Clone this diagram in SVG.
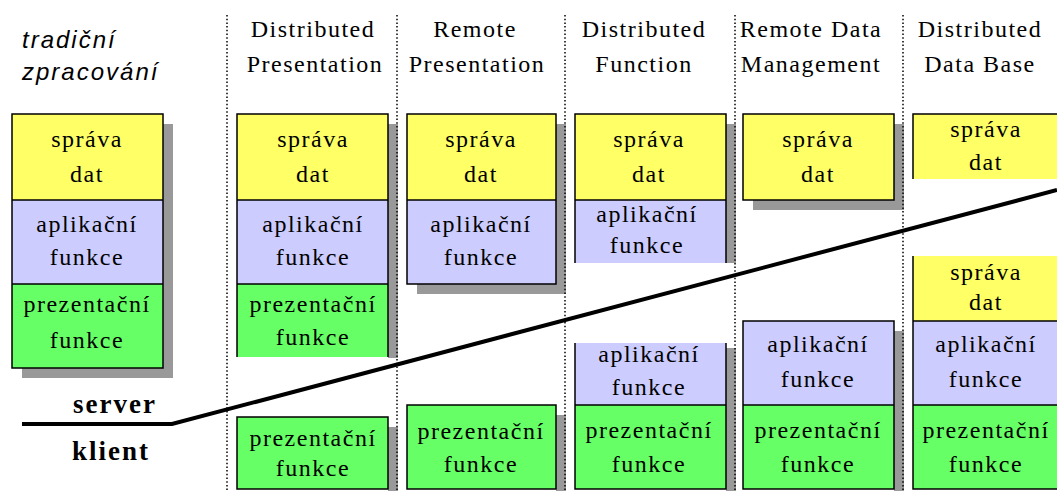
<svg xmlns="http://www.w3.org/2000/svg" width="1057" height="491" viewBox="0 0 1057 491">
<style>
.t{font-family:"Liberation Serif","Times New Roman",serif;font-size:24px;letter-spacing:1.5px;text-anchor:middle;fill:#000}
.it{font-family:"Liberation Sans",Arial,sans-serif;font-style:italic;font-size:24px;letter-spacing:2px;fill:#000}
.b{font-family:"Liberation Serif","Times New Roman",serif;font-weight:bold;font-size:27px;letter-spacing:2px;text-anchor:middle;fill:#000}
.sh{fill:#999999}
.y{fill:#FFFF66}
.p{fill:#CCCCFF}
.g{fill:#66FF66}
.bd{fill:none;stroke:#000;stroke-width:1.5}
.dv{stroke:#000;stroke-width:1.5;stroke-dasharray:1.5 2.2;fill:none}
</style>
<rect width="1057" height="491" fill="#fff"/>

<!-- shadows -->
<g id="shadows">
<rect class="sh" x="22" y="124" width="151" height="254"/>
<rect class="sh" x="388" y="124" width="10" height="234"/>
<rect class="sh" x="388" y="427" width="10" height="64"/>
<rect class="sh" x="417" y="124" width="149" height="170"/>
<rect class="sh" x="556" y="415" width="10" height="76"/>
<rect class="sh" x="726" y="124" width="10" height="139"/>
<rect class="sh" x="726" y="348" width="10" height="143"/>
<rect class="sh" x="753" y="124" width="151" height="86"/>
<rect class="sh" x="894" y="331" width="10" height="160"/>
</g>

<!-- dividers -->
<g id="dividers">
<line class="dv" x1="227" y1="15" x2="227" y2="491"/>
<line class="dv" x1="397" y1="15" x2="397" y2="491"/>
<line class="dv" x1="565" y1="15" x2="565" y2="491"/>
<line class="dv" x1="735" y1="15" x2="735" y2="491"/>
<line class="dv" x1="903" y1="15" x2="903" y2="491"/>
</g>

<!-- headers -->
<g id="header-trad">
<text class="it" x="22" y="48">tradiční</text>
<text class="it" x="22" y="80">zpracování</text>
</g>
<g id="header-dp">
<text class="t" x="313" y="37">Distributed</text>
<text class="t" x="315" y="72">Presentation</text>
</g>
<g id="header-rp">
<text class="t" x="475" y="37">Remote</text>
<text class="t" x="477" y="72">Presentation</text>
</g>
<g id="header-df">
<text class="t" x="644" y="37">Distributed</text>
<text class="t" x="644" y="72">Function</text>
</g>
<g id="header-rdm">
<text class="t" x="811" y="37">Remote Data</text>
<text class="t" x="811" y="72">Management</text>
</g>
<g id="header-ddb">
<text class="t" x="980" y="37">Distributed</text>
<text class="t" x="980" y="72">Data Base</text>
</g>

<!-- traditional -->
<g id="trad">
<rect class="y" x="12" y="114" width="151" height="86"/>
<rect class="p" x="12" y="200" width="151" height="84"/>
<rect class="g" x="12" y="284" width="151" height="84"/>
<rect class="bd" x="12" y="114" width="151" height="254"/>
<path class="bd" d="M12 200H163M12 284H163"/>
<text class="t" x="87" y="147">správa</text>
<text class="t" x="87" y="182">dat</text>
<text class="t" x="87" y="232">aplikační</text>
<text class="t" x="87" y="265">funkce</text>
<text class="t" x="87" y="312">prezentační</text>
<text class="t" x="87" y="348">funkce</text>
</g>

<!-- Distributed Presentation -->
<g id="dp-server">
<rect class="y" x="237" y="114" width="151" height="86"/>
<rect class="p" x="237" y="200" width="151" height="84"/>
<rect class="g" x="237" y="284" width="151" height="73"/>
<path class="bd" d="M237 357V114H388V357M237 200H388M237 284H388"/>
<text class="t" x="313" y="147">správa</text>
<text class="t" x="313" y="182">dat</text>
<text class="t" x="313" y="232">aplikační</text>
<text class="t" x="313" y="265">funkce</text>
<text class="t" x="313" y="312">prezentační</text>
<text class="t" x="313" y="345">funkce</text>
</g>
<g id="dp-client">
<rect class="g" x="237" y="417" width="151" height="72"/>
<rect class="bd" x="237" y="417" width="151" height="72"/>
<text class="t" x="313" y="446">prezentační</text>
<text class="t" x="313" y="476">funkce</text>
</g>

<!-- Remote Presentation -->
<g id="rp-server">
<rect class="y" x="407" y="114" width="149" height="86"/>
<rect class="p" x="407" y="200" width="149" height="84"/>
<rect class="bd" x="407" y="114" width="149" height="170"/>
<path class="bd" d="M407 200H556"/>
<text class="t" x="481" y="147">správa</text>
<text class="t" x="481" y="182">dat</text>
<text class="t" x="481" y="232">aplikační</text>
<text class="t" x="481" y="265">funkce</text>
</g>
<g id="rp-client">
<rect class="g" x="407" y="405" width="149" height="84"/>
<rect class="bd" x="407" y="405" width="149" height="84"/>
<text class="t" x="481" y="439">prezentační</text>
<text class="t" x="481" y="472">funkce</text>
</g>

<!-- Distributed Function -->
<g id="df-server">
<rect class="y" x="575" y="114" width="151" height="86"/>
<rect class="p" x="575" y="200" width="151" height="63"/>
<path class="bd" d="M575 263V114H726V263M575 200H726"/>
<text class="t" x="649" y="147">správa</text>
<text class="t" x="649" y="182">dat</text>
<text class="t" x="647" y="222">aplikační</text>
<text class="t" x="647" y="253">funkce</text>
</g>
<g id="df-client">
<rect class="p" x="575" y="343" width="151" height="62"/>
<rect class="g" x="575" y="405" width="151" height="84"/>
<path class="bd" d="M575 343V489H726V343M575 405H726"/>
<text class="t" x="649" y="362">aplikační</text>
<text class="t" x="649" y="395">funkce</text>
<text class="t" x="649" y="438">prezentační</text>
<text class="t" x="649" y="472">funkce</text>
</g>

<!-- Remote Data Management -->
<g id="rdm-server">
<rect class="y" x="743" y="114" width="151" height="86"/>
<rect class="bd" x="743" y="114" width="151" height="86"/>
<text class="t" x="818" y="147">správa</text>
<text class="t" x="818" y="182">dat</text>
</g>
<g id="rdm-client">
<rect class="p" x="743" y="321" width="151" height="84"/>
<rect class="g" x="743" y="405" width="151" height="84"/>
<rect class="bd" x="743" y="321" width="151" height="168"/>
<path class="bd" d="M743 405H894"/>
<text class="t" x="818" y="352">aplikační</text>
<text class="t" x="818" y="387">funkce</text>
<text class="t" x="818" y="438">prezentační</text>
<text class="t" x="818" y="472">funkce</text>
</g>

<!-- Distributed Data Base -->
<g id="ddb-server">
<rect class="y" x="913" y="114" width="151" height="65"/>
<path class="bd" d="M913 179V114H1064"/>
<text class="t" x="986" y="137">správa</text>
<text class="t" x="986" y="170">dat</text>
</g>
<g id="ddb-client">
<rect class="y" x="913" y="256" width="151" height="65"/>
<rect class="p" x="913" y="321" width="151" height="84"/>
<rect class="g" x="913" y="405" width="151" height="84"/>
<path class="bd" d="M913 256V489H1064M913 321H1064M913 405H1064"/>
<text class="t" x="986" y="280">správa</text>
<text class="t" x="986" y="310">dat</text>
<text class="t" x="986" y="352">aplikační</text>
<text class="t" x="986" y="387">funkce</text>
<text class="t" x="986" y="438">prezentační</text>
<text class="t" x="986" y="472">funkce</text>
</g>

<!-- server / client boundary -->
<g id="connectors">
<polyline points="22,424 172,424 1057,190" fill="none" stroke="#000" stroke-width="4"/>
</g>
<g id="labels">
<text class="b" x="115" y="413">server</text>
<text class="b" x="111" y="460">klient</text>
</g>
</svg>
